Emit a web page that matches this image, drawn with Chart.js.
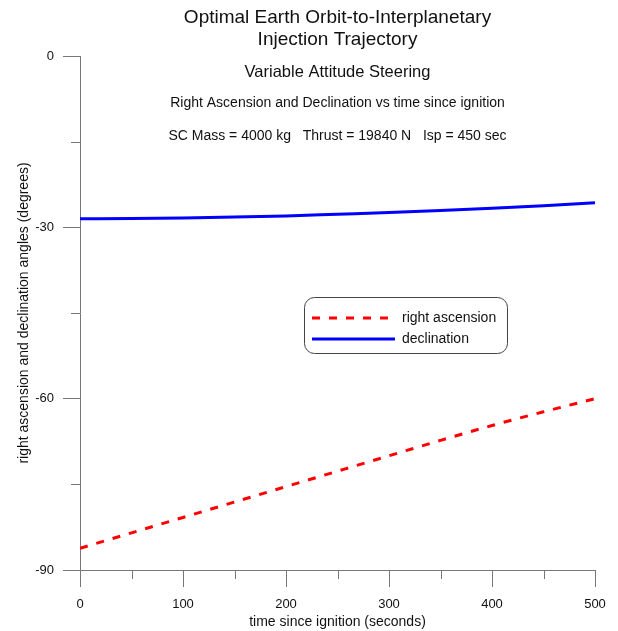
<!DOCTYPE html>
<html>
<head>
<meta charset="utf-8">
<script src="https://cdn.jsdelivr.net/npm/chart.js@4.4.1/dist/chart.umd.min.js"></script>
<style>
  html, body { margin: 0; padding: 0; background: #fff; }
  #wrap { width: 618px; height: 631px; position: relative; }
</style>
</head>
<body>
<div id="wrap"><canvas id="chart"></canvas></div>
<script>
// time since ignition (seconds)
const times = [0, 50, 100, 150, 200, 250, 300, 350, 400, 450, 500];
// right ascension (degrees)
const rightAscension = [-86.2, -83.5, -80.8, -78.1, -75.4, -72.7, -70.0, -67.3, -64.7, -62.3, -60.0];
// declination (degrees)
const declination = [-28.5, -28.45, -28.35, -28.2, -28.0, -27.7, -27.4, -27.05, -26.65, -26.2, -25.7];

const xTicks = [0, 100, 200, 300, 400, 500];
const xMinorTicks = [50, 150, 250, 350, 450];
const yTicks = [0, -30, -60, -90];
const yMinorTicks = [-15, -45, -75];

const headerLines = [
    { text: 'Optimal Earth Orbit-to-Interplanetary', size: 19, y: 18 },
    { text: 'Injection Trajectory', size: 19, y: 40 },
    { text: 'Variable Attitude Steering', size: 16.5, y: 72 },
    { text: 'Right Ascension and Declination vs time since ignition', size: 14, y: 103 },
    { text: 'SC Mass = 4000 kg   Thrust = 19840 N   Isp = 450 sec', size: 14, y: 136 }
];

const FONT = '"Liberation Sans", Arial, sans-serif';
const AXIS_COLOR = '#777';

const toPoints = (ys) => times.map((t, i) => ({ x: t, y: ys[i] }));

// headers, minor ticks and the boxed legend
const decorations = {
    id: 'decorations',
    afterDraw(chart) {
        const ctx = chart.ctx;
        const area = chart.chartArea;
        const xs = chart.scales.x;
        const ys = chart.scales.y;
        const cx = (area.left + area.right) / 2;

        ctx.save();
        ctx.fillStyle = '#111';
        ctx.textAlign = 'center';
        ctx.textBaseline = 'middle';
        headerLines.forEach(h => {
            ctx.font = h.size + 'px ' + FONT;
            ctx.fillText(h.text, cx, h.y);
        });

        // minor ticks
        ctx.strokeStyle = AXIS_COLOR;
        ctx.lineWidth = 1;
        ctx.beginPath();
        xMinorTicks.forEach(v => {
            const px = Math.round(xs.getPixelForValue(v)) + 0.5;
            ctx.moveTo(px, area.bottom);
            ctx.lineTo(px, area.bottom + 9);
        });
        yMinorTicks.forEach(v => {
            const py = Math.round(ys.getPixelForValue(v)) + 0.5;
            ctx.moveTo(area.left, py);
            ctx.lineTo(area.left - 9, py);
        });
        ctx.stroke();

        // legend
        const bx = area.left + 224, by = area.top + 241, bw = 203, bh = 56;
        ctx.beginPath();
        ctx.roundRect(bx + 0.5, by + 0.5, bw, bh, 10);
        ctx.fillStyle = '#fff';
        ctx.fill();
        ctx.strokeStyle = '#444';
        ctx.lineWidth = 1;
        ctx.stroke();

        const items = chart.data.datasets;
        const rows = [by + 21, by + 42];
        items.forEach((ds, i) => {
            ctx.beginPath();
            ctx.strokeStyle = ds.borderColor;
            ctx.lineWidth = ds.borderWidth;
            ctx.setLineDash(ds.borderDash || []);
            ctx.moveTo(bx + 8, rows[i]);
            ctx.lineTo(bx + (ds.borderDash ? 86 : 91), rows[i]);
            ctx.stroke();
            ctx.setLineDash([]);
            ctx.fillStyle = '#111';
            ctx.font = '14px ' + FONT;
            ctx.textAlign = 'left';
            ctx.fillText(ds.label, bx + 98, rows[i]);
        });
        ctx.restore();
    }
};

new Chart(document.getElementById('chart'), {
    type: 'line',
    data: {
        datasets: [
            {
                label: 'right ascension',
                data: toPoints(rightAscension),
                borderColor: '#ff0000',
                borderWidth: 3,
                borderDash: [8, 9],
                pointRadius: 0,
                cubicInterpolationMode: 'monotone',
                fill: false
            },
            {
                label: 'declination',
                data: toPoints(declination),
                borderColor: '#0000ff',
                borderWidth: 3,
                pointRadius: 0,
                cubicInterpolationMode: 'monotone',
                fill: false
            }
        ]
    },
    options: {
        responsive: true,
        maintainAspectRatio: false,
        animation: false,
        layout: { padding: { top: 56, right: 23, left: 0, bottom: 0 } },
        plugins: {
            legend: { display: false },
            tooltip: { enabled: false }
        },
        scales: {
            x: {
                type: 'linear',
                min: 0,
                max: 500,
                afterBuildTicks: (scale) => { scale.ticks = xTicks.map(v => ({ value: v })); },
                afterFit: (scale) => { scale.height = 61; },
                border: { display: true, color: AXIS_COLOR, width: 1 },
                grid: { drawOnChartArea: false, drawTicks: true, tickLength: 17, color: AXIS_COLOR },
                ticks: { color: '#111', font: { family: FONT, size: 13 }, padding: 10, maxRotation: 0 },
                title: { display: true, text: 'time since ignition (seconds)', color: '#111', font: { family: FONT, size: 14 }, padding: { top: 0, bottom: 0 } }
            },
            y: {
                type: 'linear',
                min: -90,
                max: 0,
                afterBuildTicks: (scale) => { scale.ticks = yTicks.map(v => ({ value: v })); },
                afterFit: (scale) => { scale.width = 80; },
                border: { display: true, color: AXIS_COLOR, width: 1 },
                grid: { drawOnChartArea: false, drawTicks: true, tickLength: 17, color: AXIS_COLOR },
                ticks: { color: '#111', font: { family: FONT, size: 13 }, padding: 9 },
                title: { display: true, text: 'right ascension and declination angles (degrees)', color: '#111', font: { family: FONT, size: 14 }, padding: { top: 16, bottom: 0 } }
            }
        }
    },
    plugins: [decorations]
});
</script>
</body>
</html>
